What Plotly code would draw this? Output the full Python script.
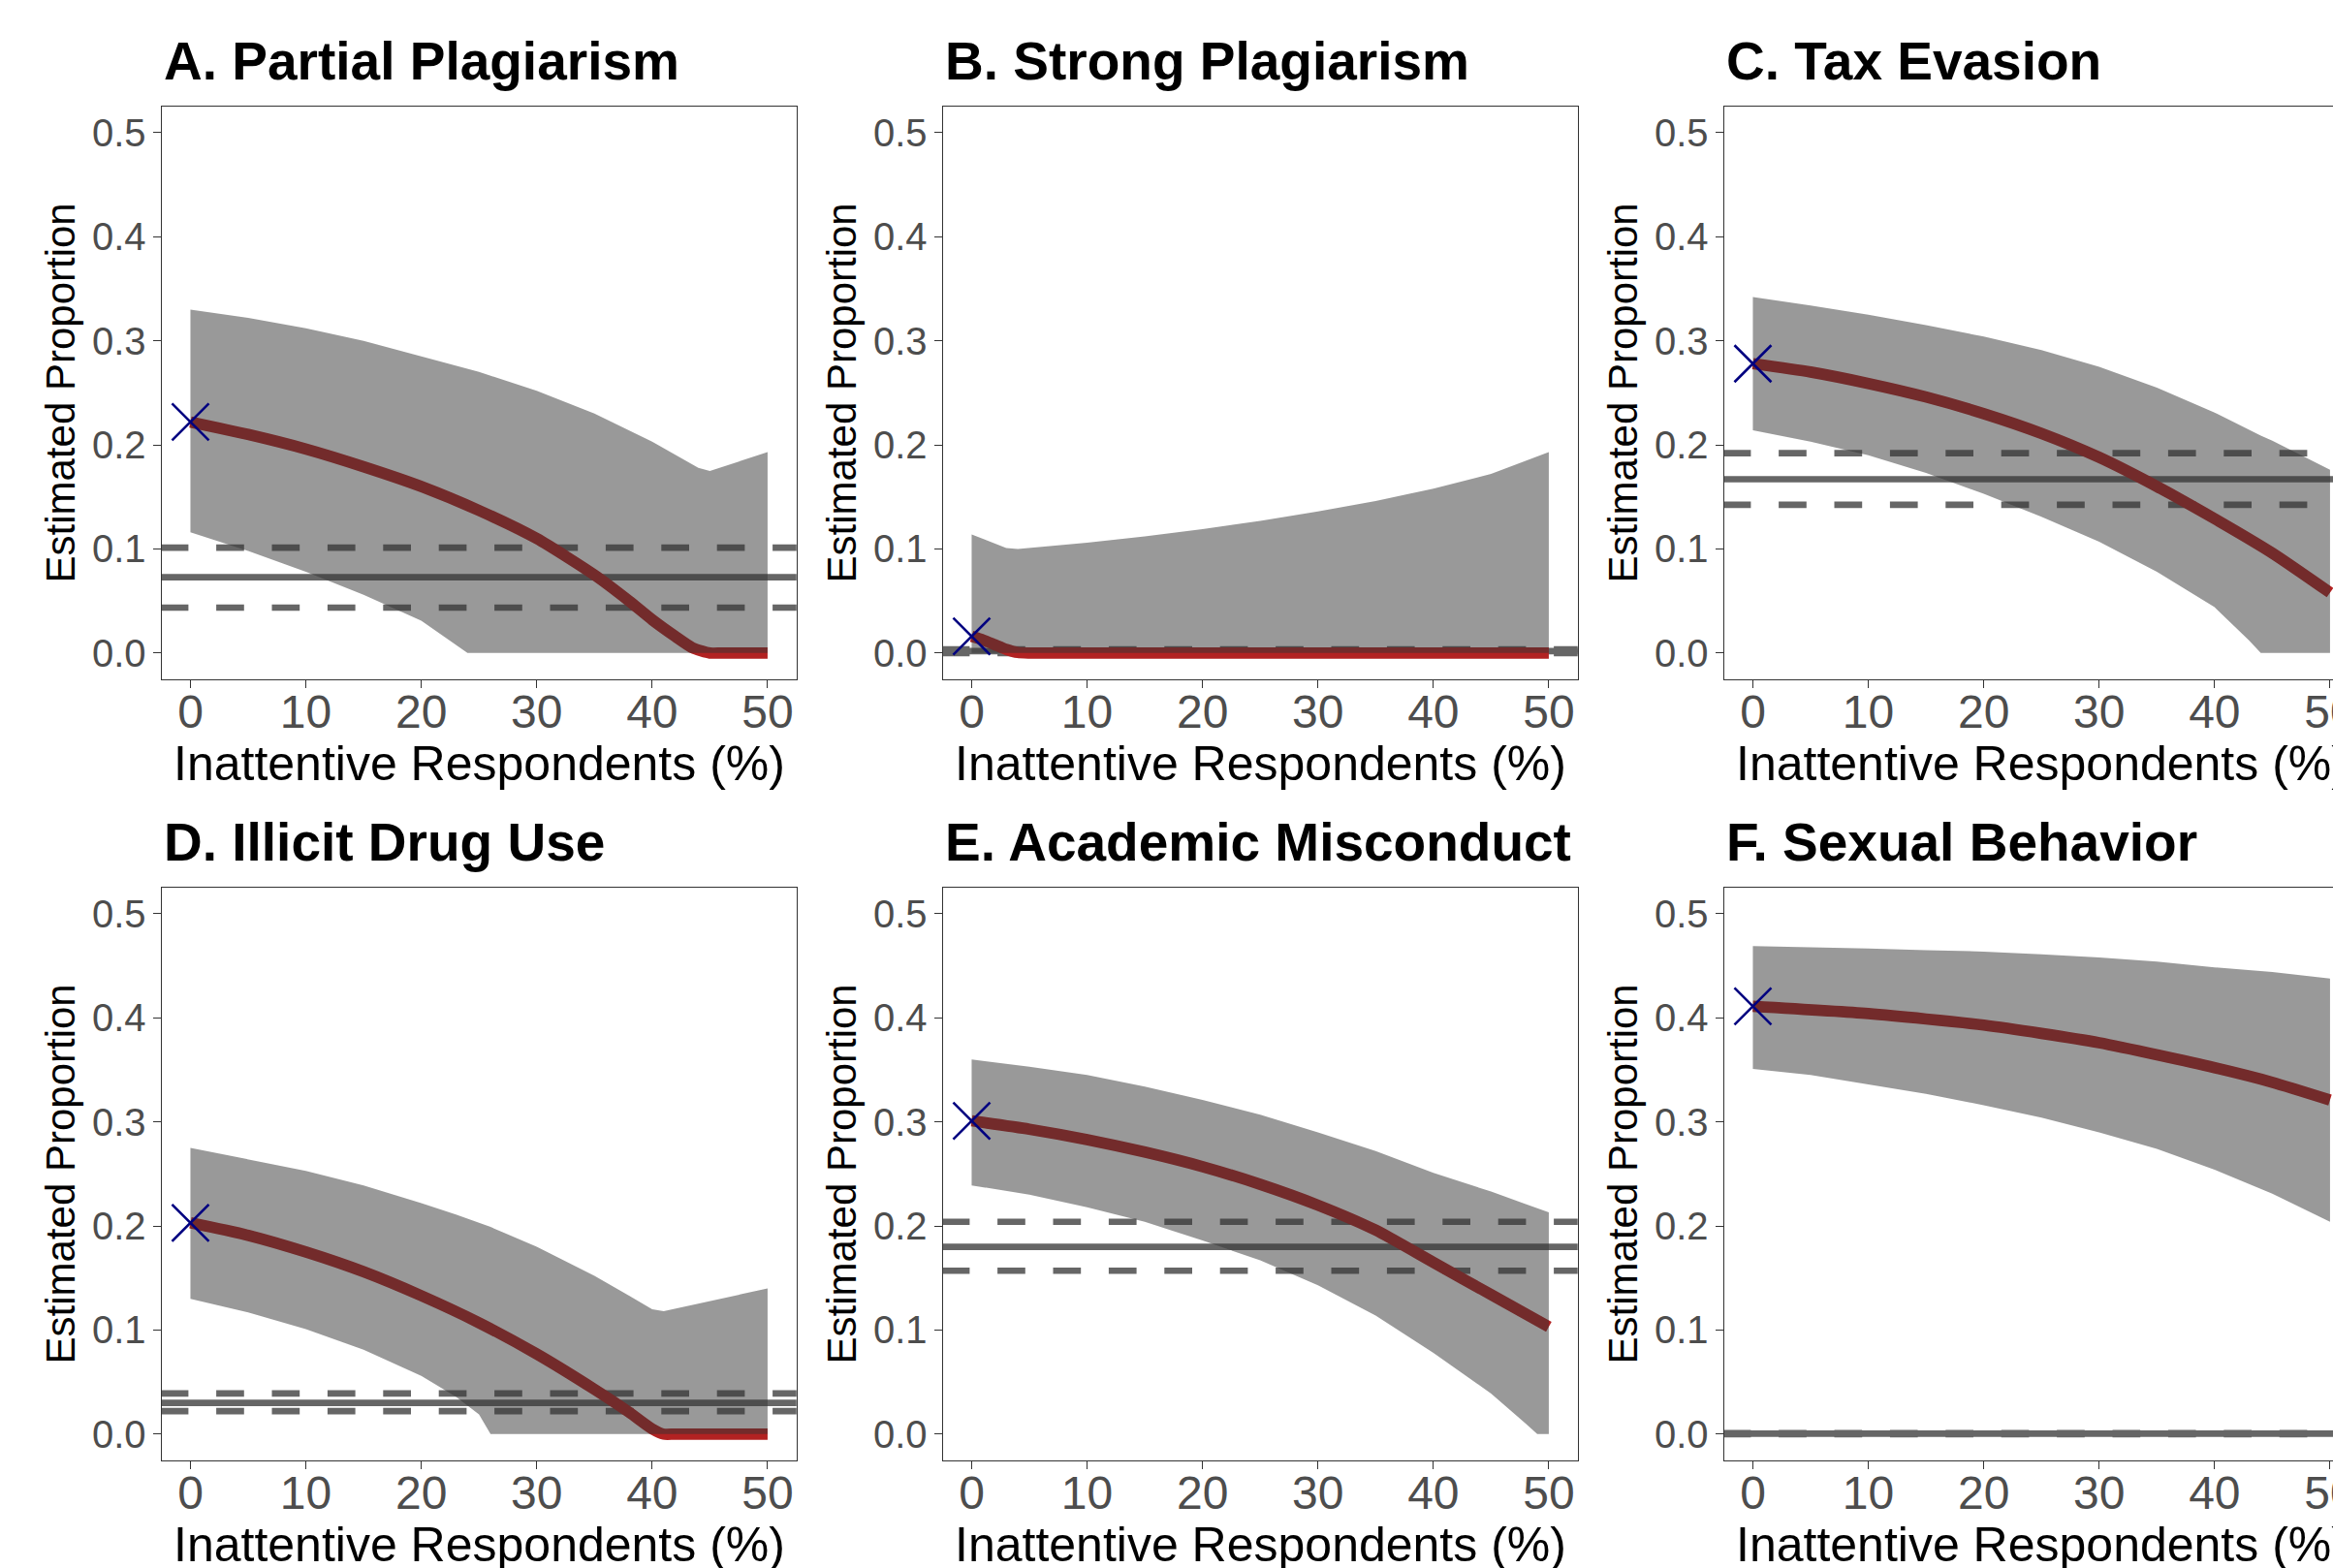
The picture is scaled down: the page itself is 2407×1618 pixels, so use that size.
import plotly.graph_objects as go

W, H = 2407, 1618

TITLES = ["A. Partial Plagiarism", "B. Strong Plagiarism", "C. Tax Evasion",
          "D. Illicit Drug Use", "E. Academic Misconduct", "F. Sexual Behavior"]
X_TICKS = [0, 10, 20, 30, 40, 50]
Y_TICKS = [0.0, 0.1, 0.2, 0.3, 0.4, 0.5]
X_TITLE = "Inattentive Respondents (%)"
Y_TITLE = "Estimated Proportion"

# horizontal reference estimate with its interval (one value per panel A-F)
REF_EST = [0.0728, 0.0018, 0.167, 0.030, 0.180, 0.0005]
REF_LOW = [0.0436, 0.0, 0.1425, 0.022, 0.157, 0.0]
REF_UP = [0.1013, 0.0036, 0.192, 0.039, 0.204, 0.001]

# A. Partial Plagiarism
A_BAND_X = [0, 5, 10, 15, 20, 24, 25, 30, 35, 40, 44, 45, 50]
A_UPPER = [0.330, 0.322, 0.312, 0.300, 0.285, 0.273, 0.270, 0.252, 0.230, 0.203, 0.178, 0.175, 0.193]
A_LOWER = [0.116, 0.098, 0.078, 0.056, 0.031, 0.0, 0.0, 0.0, 0.0, 0.0, 0.0, 0.0, 0.0]
A_EST_X = [0, 5, 10, 15, 20, 25, 30, 35, 38, 40, 42, 43.5, 45, 46, 50]
A_EST = [0.222, 0.210, 0.196, 0.179, 0.160, 0.137, 0.110, 0.075, 0.050, 0.032, 0.016, 0.005, 0.0, 0.0, 0.0]

# B. Strong Plagiarism
B_BAND_X = [0, 3, 4, 10, 15, 20, 25, 30, 35, 40, 45, 50]
B_UPPER = [0.114, 0.101, 0.100, 0.106, 0.112, 0.119, 0.127, 0.136, 0.146, 0.158, 0.172, 0.193]
B_LOWER = [0.0, 0.0, 0.0, 0.0, 0.0, 0.0, 0.0, 0.0, 0.0, 0.0, 0.0, 0.0]
B_EST_X = [0, 1, 2, 3, 4, 5, 50]
B_EST = [0.016, 0.0125, 0.008, 0.0035, 0.0005, 0.0, 0.0]

# C. Tax Evasion
C_BAND_X = [0, 5, 10, 15, 20, 25, 30, 35, 40, 43, 44, 45, 48, 50]
C_UPPER = [0.342, 0.334, 0.325, 0.315, 0.304, 0.291, 0.275, 0.255, 0.231, 0.214, 0.209, 0.204, 0.187, 0.176]
C_LOWER = [0.214, 0.203, 0.190, 0.173, 0.153, 0.131, 0.107, 0.078, 0.044, 0.012, 0.0, 0.0, 0.0, 0.0]
C_EST_X = [0, 5, 10, 15, 20, 25, 30, 35, 40, 45, 50]
C_EST = [0.278, 0.270, 0.259, 0.246, 0.230, 0.211, 0.188, 0.160, 0.129, 0.096, 0.058]

# D. Illicit Drug Use
D_BAND_X = [0, 5, 10, 15, 20, 23, 25, 26, 30, 35, 38, 40, 41, 45, 50]
D_UPPER = [0.275, 0.264, 0.253, 0.239, 0.222, 0.211, 0.203, 0.199, 0.180, 0.152, 0.133, 0.120, 0.118, 0.128, 0.140]
D_LOWER = [0.130, 0.117, 0.101, 0.081, 0.056, 0.036, 0.019, 0.0, 0.0, 0.0, 0.0, 0.0, 0.0, 0.0, 0.0]
D_EST_X = [0, 5, 10, 15, 20, 25, 30, 35, 38, 40, 41, 42, 50]
D_EST = [0.203, 0.191, 0.175, 0.156, 0.133, 0.107, 0.077, 0.043, 0.021, 0.005, 0.0, 0.0, 0.0]

# E. Academic Misconduct
E_BAND_X = [0, 5, 10, 15, 20, 25, 30, 35, 40, 45, 48, 49, 50]
E_UPPER = [0.360, 0.353, 0.345, 0.334, 0.321, 0.307, 0.290, 0.272, 0.251, 0.233, 0.221, 0.217, 0.213]
E_LOWER = [0.239, 0.230, 0.218, 0.204, 0.186, 0.167, 0.143, 0.114, 0.078, 0.039, 0.010, 0.0, 0.0]
E_EST_X = [0, 5, 10, 15, 20, 25, 30, 35, 40, 45, 50]
E_EST = [0.301, 0.293, 0.283, 0.271, 0.257, 0.240, 0.220, 0.196, 0.165, 0.134, 0.103]

# F. Sexual Behavior
F_BAND_X = [0, 5, 10, 15, 20, 25, 30, 35, 40, 45, 50]
F_UPPER = [0.469, 0.468, 0.4665, 0.465, 0.4636, 0.461, 0.458, 0.454, 0.4485, 0.444, 0.4377]
F_LOWER = [0.351, 0.345, 0.336, 0.327, 0.316, 0.304, 0.290, 0.274, 0.254, 0.231, 0.204]
F_EST_X = [0, 10, 20, 30, 40, 45, 50]
F_EST = [0.411, 0.404, 0.393, 0.376, 0.352, 0.338, 0.321]

BAND_X = [A_BAND_X, B_BAND_X, C_BAND_X, D_BAND_X, E_BAND_X, F_BAND_X]
UPPER = [A_UPPER, B_UPPER, C_UPPER, D_UPPER, E_UPPER, F_UPPER]
LOWER = [A_LOWER, B_LOWER, C_LOWER, D_LOWER, E_LOWER, F_LOWER]
EST_X = [A_EST_X, B_EST_X, C_EST_X, D_EST_X, E_EST_X, F_EST_X]
EST = [A_EST, B_EST, C_EST, D_EST, E_EST, F_EST]

# ---------------- layout geometry (pixels) ----------------
COL_LEFT = [166.7, 972.7, 1778.7]
ROW_TOP = [110.0, 916.0]
PW, PH = 655.0, 590.7
X_LO, X_HI = -2.5, 52.5
Y_LO, Y_HI = -0.025, 0.525
PX_PER_X = PW / (X_HI - X_LO)

FONT = "Liberation Sans, Arial, Helvetica, sans-serif"
RED = "#B22222"
RIBBON = "rgba(51,51,51,0.5)"
REFCOL = "#666666"
DASH = "28.7px,28.7px"

fig = go.Figure()
layout = {}
annotations = []

for i in range(6):
    r, c = divmod(i, 3)
    n = "" if i == 0 else str(i + 1)
    xa, ya = "x" + n, "y" + n
    L = COL_LEFT[c]
    T = ROW_TOP[r]
    R = min(L + PW, W)
    xhi = X_LO + (R - L) / PX_PER_X
    x_start = X_LO - 1.0 / PX_PER_X

    for val, dash in [(REF_LOW[i], DASH), (REF_UP[i], DASH), (REF_EST[i], "solid")]:
        fig.add_trace(go.Scatter(x=[x_start, 60], y=[val, val], mode="lines",
                                 line=dict(color=REFCOL, width=6.7, dash=dash),
                                 xaxis=xa, yaxis=ya, hoverinfo="skip", showlegend=False))

    fig.add_trace(go.Scatter(x=EST_X[i], y=EST[i], mode="lines",
                             line=dict(color=RED, width=11.7, shape="spline", smoothing=0.6),
                             xaxis=xa, yaxis=ya, hoverinfo="skip", showlegend=False))

    bx = BAND_X[i]
    fig.add_trace(go.Scatter(x=bx + bx[::-1], y=UPPER[i] + LOWER[i][::-1],
                             mode="lines", fill="toself", fillcolor=RIBBON,
                             line=dict(width=0, color=RIBBON),
                             xaxis=xa, yaxis=ya, hoverinfo="skip", showlegend=False))

    fig.add_trace(go.Scatter(x=[EST_X[i][0]], y=[EST[i][0]], mode="markers",
                             marker=dict(symbol="x-thin", size=38, color="#000080",
                                         line=dict(color="#000080", width=2.6)),
                             xaxis=xa, yaxis=ya, hoverinfo="skip", showlegend=False,
                             cliponaxis=False))

    common = dict(showgrid=False, zeroline=False, showline=True, linecolor="#333333",
                  linewidth=1.3, ticks="outside", ticklen=8, tickwidth=1.3,
                  tickcolor="#333333", automargin=False, fixedrange=True,
                  ticklabeloverflow="allow")
    layout["xaxis" + n] = dict(domain=[L / W, R / W], range=[X_LO, xhi], anchor=ya,
                               mirror=True, tickvals=X_TICKS,
                               tickfont=dict(size=48, color="#4d4d4d", family=FONT),
                               ticklabelstandoff=-16, **common)
    layout["yaxis" + n] = dict(domain=[1 - (T + PH) / H, 1 - T / H], range=[Y_LO, Y_HI],
                               anchor=xa, mirror=(c < 2), tickvals=Y_TICKS, tickformat=".1f",
                               tickfont=dict(size=40, color="#4d4d4d", family=FONT),
                               ticklabelstandoff=-1, **common)

    # panel title (baseline at T - 27)
    tfs = 55
    base = T - 27.0
    annotations.append(dict(text=TITLES[i], xref="paper", yref="paper",
                            x=L / W, y=1 - (base + 0.212 * tfs + 1) / H,
                            xanchor="left", yanchor="bottom", showarrow=False,
                            font=dict(size=tfs, color="black", family=FONT, weight="bold")))
    # x title (baseline 106 px below panel bottom)
    xfs = 50
    xbase = T + PH + 106.0
    annotations.append(dict(text=X_TITLE, xref="paper", yref="paper",
                            x=(L + PW / 2) / W, y=1 - (xbase + 0.212 * xfs + 1) / H,
                            xanchor="center", yanchor="bottom", showarrow=False,
                            font=dict(size=xfs, color="black", family=FONT)))
    # y title (rotated, baseline 90 px left of panel)
    yfs = 42
    ybase = L - 90.0
    annotations.append(dict(text=Y_TITLE, xref="paper", yref="paper",
                            x=(ybase - 0.3465 * yfs) / W, y=1 - (T + PH / 2) / H,
                            xanchor="center", yanchor="middle", textangle=-90,
                            showarrow=False,
                            font=dict(size=yfs, color="black", family=FONT)))

fig.update_layout(**layout)
fig.update_layout(width=W, height=H, autosize=False,
                  margin=dict(l=0, r=0, t=0, b=0, pad=0),
                  paper_bgcolor="white", plot_bgcolor="white",
                  showlegend=False, annotations=annotations,
                  font=dict(family=FONT))

fig.write_html("out.html", config={"displayModeBar": False},
               post_script="document.body.style.margin='0';document.body.style.overflow='hidden';")
